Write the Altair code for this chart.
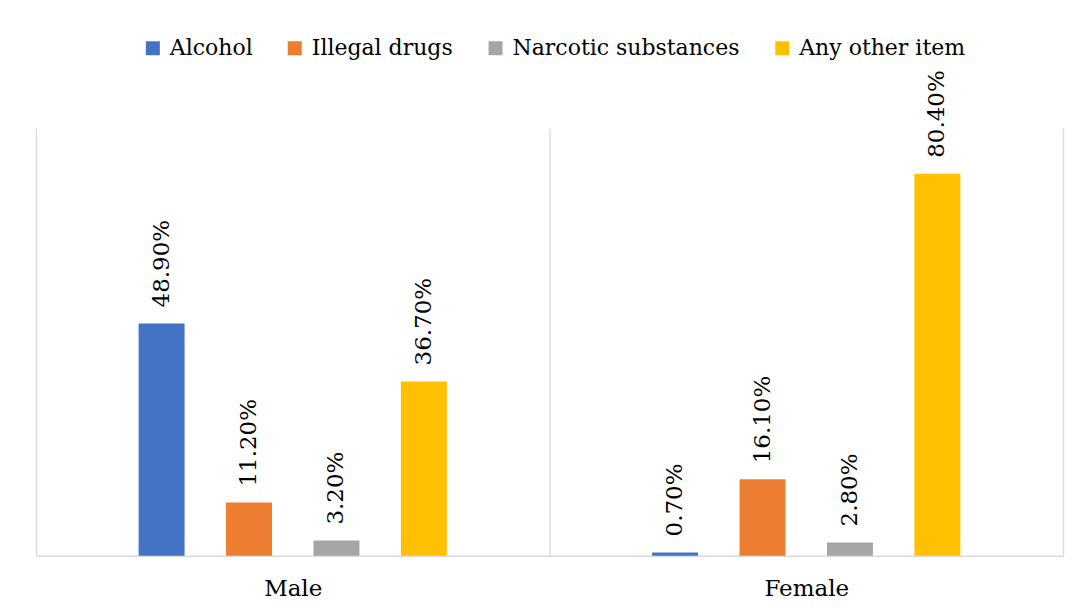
import altair as alt
import pandas as pd

genders = ["Male", "Female"]
categories = ["Alcohol", "Illegal drugs", "Narcotic substances", "Any other item"]
male_values = [0.489, 0.112, 0.032, 0.367]
female_values = [0.007, 0.161, 0.028, 0.804]
colors = ["#4472C4", "#ED7D31", "#A5A5A5", "#FFC000"]

rows = []
for g, vals in zip(genders, [male_values, female_values]):
    for c, v in zip(categories, vals):
        rows.append({"gender": g, "category": c, "value": v})
df = pd.DataFrame(rows)

FONT = "DejaVu Serif"

x_enc = alt.X("gender:N", sort=genders, title=None,
              scale=alt.Scale(paddingInner=0, paddingOuter=0),
              axis=alt.Axis(labelAngle=0, labelFontSize=23, labelFont=FONT,
                            labelColor="#000000", labelPadding=22,
                            ticks=False, grid=True, tickBand="extent",
                            gridColor="#d9d9d9", gridWidth=1.3,
                            domainColor="#d9d9d9", domainWidth=1.5))
xo_enc = alt.XOffset("category:N", sort=categories,
                     scale=alt.Scale(paddingInner=0.126, paddingOuter=1))
y_enc = alt.Y("value:Q", axis=None, scale=alt.Scale(domain=[0, 0.9], nice=False))

bars = alt.Chart(df).mark_bar(width=46).encode(
    x=x_enc, xOffset=xo_enc, y=y_enc,
    color=alt.Color("category:N", sort=categories,
                    scale=alt.Scale(domain=categories, range=colors),
                    legend=alt.Legend(title=None, orient="none", direction="horizontal",
                                      columns=4, legendX=106, legendY=-91,
                                      symbolType="square", symbolSize=196,
                                      symbolStrokeWidth=0, labelFont=FONT,
                                      labelFontSize=22, labelColor="#000000",
                                      labelOffset=6, columnPadding=31,
                                      labelLimit=400, padding=0)),
)

labels = alt.Chart(df).mark_text(angle=270, align="left", baseline="middle",
                                 dx=16, font=FONT, fontSize=23, color="#000000").encode(
    x=x_enc, xOffset=xo_enc, y=y_enc,
    text=alt.Text("value:Q", format=".2%"),
)

chart = alt.layer(bars, labels).properties(
    width=1028, height=428,
    autosize=alt.AutoSizeParams(type="none"),
    padding={"left": 28, "top": 120, "right": 10, "bottom": 50},
).configure(background="#ffffff", font=FONT).configure_view(stroke=None)

chart.save("out.html", embed_options={"renderer": "svg", "actions": False})
